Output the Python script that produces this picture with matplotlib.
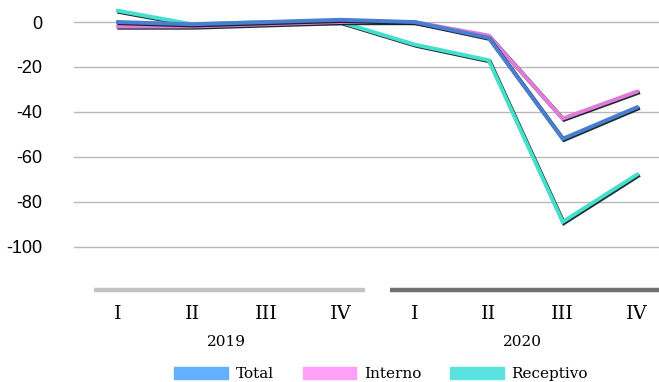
import matplotlib
matplotlib.use("Agg")
from matplotlib import pyplot as plt
from matplotlib import patheffects as pe
from matplotlib.patches import Patch
from matplotlib.transforms import blended_transform_factory
import numpy as np

# quarterly variation (%), 2019-2020
quarters = ["I", "II", "III", "IV", "I", "II", "III", "IV"]
years = ["2019", "2020"]
total = [0, -1, 0, 1, 0, -7, -52, -38]
interno = [-2, -2, -1, 0, 0, -6, -43, -31]
receptivo = [5, -1, 0, 0, -10, -17, -89, -68]
yticks = [0, -20, -40, -60, -80, -100]

line_colors = {"Total": "#4a7fd0", "Interno": "#e27ad8", "Receptivo": "#45dfcc"}
legend_colors = {"Total": "#62b0ff", "Interno": "#ffa0f8", "Receptivo": "#5ae2e0"}
year_bar_colors = ["#c2c2c2", "#707070"]

fig = plt.figure(figsize=(6.59, 3.82), dpi=100)
ax = fig.add_axes([74 / 659, 1 - 287 / 382, 1 - 74 / 659, 287 / 382])

x = np.arange(len(quarters))
shadow = [pe.SimpleLineShadow(offset=(0.9, -0.9), shadow_color="#102028", alpha=0.95), pe.Normal()]
for name, vals in [("Receptivo", receptivo), ("Interno", interno), ("Total", total)]:
    ax.plot(x, vals, color=line_colors[name], lw=2.8, solid_joinstyle="miter",
            path_effects=shadow, zorder=3)

ax.set_xlim(-0.594, 7.30)
ax.set_ylim(-118, 9.8)
ax.set_yticks(yticks)
ax.set_yticklabels([str(v) for v in yticks], fontsize=13, family="Liberation Sans")
ax.grid(axis="y", color="#b8b8b8", lw=1)
ax.set_axisbelow(True)
ax.tick_params(axis="y", length=0, pad=23)
ax.set_xticks(x)
ax.set_xticklabels(quarters, fontsize=14, family="DejaVu Serif")
ax.tick_params(axis="x", length=0, pad=13)
for s in ax.spines.values():
    s.set_visible(False)

# year group bars and labels below the quarter ticks
trans = blended_transform_factory(ax.transData, ax.transAxes)
for i, yr in enumerate(years):
    c = 1.5 + 4 * i
    ax.plot([c - 1.83, c + 1.83], [-0.011, -0.011], color=year_bar_colors[i], lw=3.2,
            solid_capstyle="butt", transform=trans, clip_on=False)
    ax.text(c - 0.04, -0.19, yr, transform=trans, ha="center", va="center",
            fontsize=11, family="DejaVu Serif")

handles = [Patch(color=legend_colors[n]) for n in ["Total", "Interno", "Receptivo"]]
fig.legend(handles, ["Total", "Interno", "Receptivo"], loc="center",
           bbox_to_anchor=(381 / 659, 1 - 374 / 382), ncol=3, frameon=False,
           prop={"family": "DejaVu Serif", "size": 11}, handlelength=3.5,
           handleheight=0.8, handletextpad=0.5, columnspacing=1.9)

fig.savefig("out.png", dpi=100, facecolor="white")
